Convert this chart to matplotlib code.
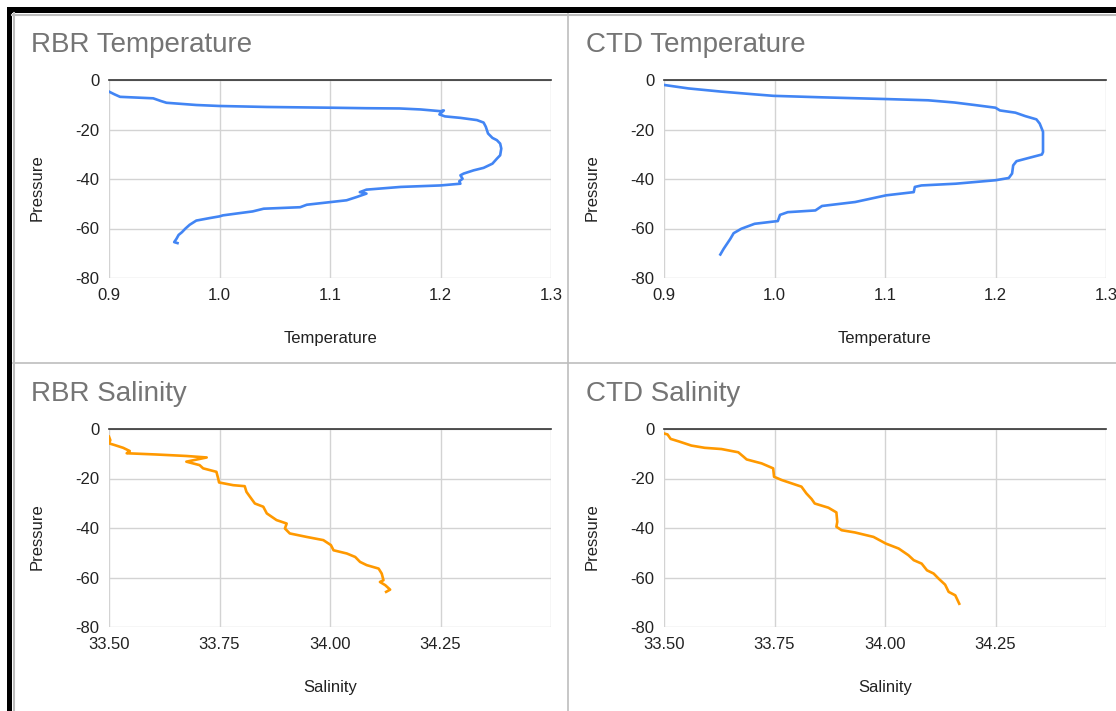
import numpy as np
import matplotlib.pyplot as plt
from matplotlib.patches import Rectangle
from matplotlib.lines import Line2D

plt.rcParams['axes.unicode_minus'] = False

# RBR temperature profile (temperature, pressure)
rbr_temp = [0.900, 0.905, 0.910, 0.940, 0.947, 0.952, 0.979, 1.000, 1.043, 1.101,
            1.133, 1.163, 1.182, 1.200, 1.203, 1.199, 1.204, 1.218, 1.233, 1.239,
            1.241, 1.243, 1.247, 1.251, 1.254, 1.255, 1.254, 1.251, 1.247, 1.239,
            1.230, 1.221, 1.218, 1.220, 1.217, 1.218, 1.200, 1.164, 1.133, 1.127,
            1.133, 1.124, 1.115, 1.101, 1.079, 1.073, 1.040, 1.030, 1.018, 1.003,
            1.000, 0.991, 0.979, 0.973, 0.969, 0.966, 0.963, 0.961, 0.959, 0.962]
rbr_temp_p = [-4.7, -5.8, -6.8, -7.4, -8.5, -9.2, -10.1, -10.5, -10.9, -11.2,
              -11.4, -11.5, -11.9, -12.6, -12.3, -13.9, -14.7, -15.3, -16.2, -17.2,
              -18.9, -21.6, -23.4, -24.3, -25.7, -27.7, -30.4, -31.8, -33.8, -35.5,
              -36.5, -37.8, -38.5, -39.9, -40.9, -41.9, -42.6, -43.2, -44.3, -45.3,
              -45.9, -47.3, -48.6, -49.3, -50.4, -51.4, -52.0, -53.1, -53.8, -54.7,
              -55.1, -55.8, -56.8, -58.5, -60.1, -61.5, -62.6, -64.2, -65.5, -65.9]

# CTD temperature profile
ctd_temp = [0.900, 0.922, 0.952, 0.982, 0.999, 1.043, 1.101, 1.139, 1.163, 1.181,
            1.200, 1.204, 1.218, 1.227, 1.237, 1.240, 1.243, 1.243, 1.243, 1.242,
            1.230, 1.219, 1.216, 1.215, 1.212, 1.200, 1.164, 1.133, 1.127, 1.126,
            1.101, 1.073, 1.043, 1.037, 1.012, 1.005, 1.003, 0.999, 0.982, 0.970,
            0.963, 0.960, 0.957, 0.954, 0.951]
ctd_temp_p = [-2.0, -3.4, -4.7, -5.8, -6.4, -7.0, -7.7, -8.2, -9.1, -10.1,
              -11.2, -12.3, -13.2, -14.6, -15.9, -17.6, -20.9, -25.0, -29.1, -30.1,
              -31.5, -32.8, -34.5, -37.8, -39.6, -40.5, -41.9, -42.6, -43.2, -45.3,
              -46.6, -49.3, -50.9, -52.7, -53.4, -54.5, -57.0, -57.2, -58.1, -60.1,
              -61.9, -64.2, -66.2, -68.2, -70.5]

# RBR salinity profile
rbr_sal = [33.500, 33.503, 33.500, 33.513, 33.532, 33.547, 33.540, 33.607, 33.675, 33.721,
           33.675, 33.705, 33.713, 33.743, 33.747, 33.749, 33.781, 33.807, 33.811, 33.819,
           33.830, 33.849, 33.857, 33.879, 33.902, 33.898, 33.909, 33.947, 33.985, 34.002,
           34.008, 34.038, 34.057, 34.068, 34.083, 34.110, 34.117, 34.121, 34.113, 34.125,
           34.136, 34.127]
rbr_sal_p = [-3.1, -4.5, -5.8, -6.5, -7.6, -8.9, -9.8, -10.3, -10.9, -11.5,
             -13.2, -14.6, -15.9, -17.3, -20.0, -21.6, -22.7, -23.1, -25.4, -27.4,
             -30.1, -31.4, -34.1, -36.8, -38.2, -40.2, -42.2, -43.6, -44.9, -46.9,
             -49.0, -50.3, -51.7, -53.7, -55.0, -56.4, -58.4, -61.1, -61.8, -63.1,
             -64.9, -65.8]

# CTD salinity profile
ctd_sal = [33.500, 33.508, 33.515, 33.535, 33.562, 33.592, 33.630, 33.668, 33.680, 33.687,
           33.721, 33.747, 33.749, 33.766, 33.811, 33.822, 33.834, 33.841, 33.872, 33.890,
           33.892, 33.890, 33.902, 33.932, 33.974, 34.002, 34.031, 34.053, 34.065, 34.083,
           34.095, 34.110, 34.121, 34.136, 34.144, 34.159, 34.168]
ctd_sal_p = [-1.8, -2.2, -4.0, -5.1, -6.7, -7.6, -8.1, -9.4, -11.2, -12.3,
             -13.9, -15.9, -19.3, -20.6, -23.3, -26.0, -28.3, -30.1, -31.8, -33.7,
             -37.5, -39.5, -40.9, -41.8, -43.6, -46.3, -48.3, -51.0, -53.0, -54.4,
             -57.1, -58.4, -60.4, -62.9, -65.8, -67.2, -70.6]

temp_ticks = [0.9, 1.0, 1.1, 1.2, 1.3]
temp_labels = ['0.9', '1.0', '1.1', '1.2', '1.3']
sal_ticks = [33.50, 33.75, 34.00, 34.25, 34.50]
sal_labels = ['33.50', '33.75', '34.00', '34.25', '']
p_ticks = [0, -20, -40, -60, -80]

W, H = 1116, 711
fig = plt.figure(figsize=(W / 100, H / 100), dpi=100)
fig.patch.set_facecolor('white')


def box(x0, y0, x1, y1):
    # pixel box (top-left origin) -> figure fraction rect
    return [x0 / W, 1 - y1 / H, (x1 - x0) / W, (y1 - y0) / H]


panels = [
    ('RBR Temperature', rbr_temp, rbr_temp_p, '#4285F4', 'Temperature', temp_ticks, temp_labels, 0, 0),
    ('CTD Temperature', ctd_temp, ctd_temp_p, '#4285F4', 'Temperature', temp_ticks, temp_labels, 555, 0),
    ('RBR Salinity', rbr_sal, rbr_sal_p, '#FF9900', 'Salinity', sal_ticks, sal_labels, 0, 349),
    ('CTD Salinity', ctd_sal, ctd_sal_p, '#FF9900', 'Salinity', sal_ticks, sal_labels, 555, 349),
]

for title, xs, ps, color, xlabel, ticks, labels, dx, dy in panels:
    ax = fig.add_axes(box(109 + dx, 80 + dy, 551 + dx, 278 + dy))
    ax.plot(xs, ps, color=color, lw=1.9, solid_joinstyle='round')
    ax.set_xlim(ticks[0], ticks[-1])
    ax.set_ylim(-80, 0)
    ax.set_xticks(ticks)
    ax.set_xticklabels(labels)
    ax.set_yticks(p_ticks)
    ax.grid(True, color='#d3d3d3', lw=1)
    ax.set_axisbelow(True)
    for s in ax.spines.values():
        s.set_visible(False)
    ax.axhline(0, color='#333333', lw=1.2, clip_on=False)
    ax.tick_params(length=0, labelsize=12, labelcolor='#222222', pad=7,
                   labelfontfamily='Liberation Sans')
    ax.set_xlabel(xlabel, fontsize=12, family='Liberation Sans', color='#222222')
    ax.xaxis.set_label_coords(0.5, -0.27)
    ax.set_ylabel('Pressure', fontsize=12, family='Liberation Sans', color='#222222')
    ax.yaxis.set_label_coords(-0.145, 0.455)
    fig.text((31 + dx) / W, 1 - (45 + dy) / H, title, fontsize=20, color='#757575',
             family='Liberation Sans', va='center', ha='left')

# sheet frame and panel separators
fig.add_artist(Rectangle((7 / W, 1 - 13 / H), 1.0, 6 / H, transform=fig.transFigure,
                         color='black', lw=0))
fig.add_artist(Rectangle((7 / W, 0), 5 / W, 1 - 7 / H, transform=fig.transFigure,
                         color='black', lw=0))
fig.add_artist(Line2D([12 / W, 1], [1 - 14.5 / H] * 2, color='#bdbdbd', lw=1.5))
fig.add_artist(Line2D([13.5 / W] * 2, [0, 1 - 13 / H], color='#bdbdbd', lw=1.5))
fig.add_artist(Line2D([568 / W] * 2, [0, 1 - 14 / H], color='#bdbdbd', lw=1.2))
fig.add_artist(Line2D([13 / W, 1], [1 - 363 / H] * 2, color='#bdbdbd', lw=1.2))

fig.savefig('out.png', dpi=100)
